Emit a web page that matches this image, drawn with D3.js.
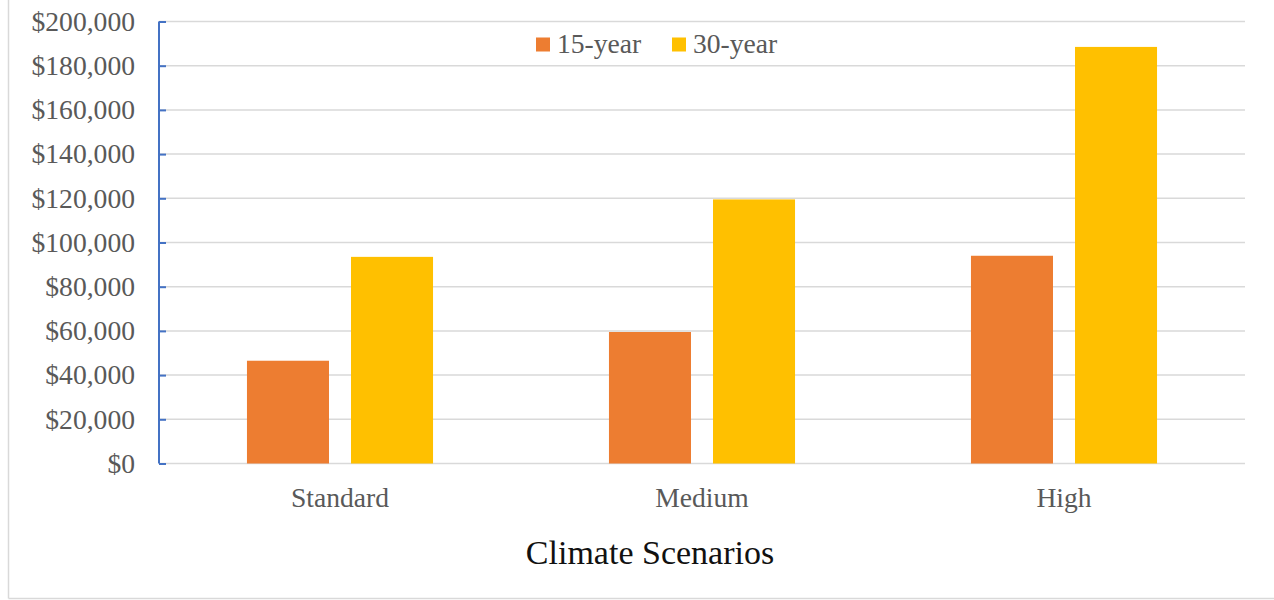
<!DOCTYPE html>
<html>
<head>
<meta charset="utf-8">
<script src="https://cdn.jsdelivr.net/npm/d3@7"></script>
<style>
  html, body { margin: 0; padding: 0; background: #fff; }
  svg { display: block; }
  text { font-family: "Liberation Serif", "Times New Roman", serif; }
</style>
</head>
<body>
<svg id="chart" width="1274" height="600"></svg>
<script>
// Cost estimates by climate scenario and planning horizon
const categories = ["Standard", "Medium", "High"];
const seriesNames = ["15-year", "30-year"];
const values15 = [46500, 59500, 94000];
const values30 = [93500, 119500, 188500];
const yTicks = [0, 20000, 40000, 60000, 80000, 100000, 120000, 140000, 160000, 180000, 200000];
const axisTitle = "Climate Scenarios";

const colors = { "15-year": "#ED7D31", "30-year": "#FFC000" };
const seriesValues = { "15-year": values15, "30-year": values30 };

const svg = d3.select("#chart");
const W = 1274, H = 600;
const plot = { left: 159, right: 1245, top: 21.5, bottom: 463.5 };
const labelSize = 27.6;

// Chart frame (left and bottom edges visible)
svg.append("line").attr("x1", 8.5).attr("x2", 8.5).attr("y1", 0).attr("y2", 598.5)
  .attr("stroke", "#d9d9d9").attr("stroke-width", 1.5);
svg.append("line").attr("x1", 8.5).attr("x2", W).attr("y1", 598.5).attr("y2", 598.5)
  .attr("stroke", "#d9d9d9").attr("stroke-width", 1.5);

const y = d3.scaleLinear().domain([0, 200000]).range([plot.bottom, plot.top]);
const x0 = d3.scaleBand().domain(categories).range([plot.left, plot.right])
  .paddingInner(0.486).paddingOuter(0.243);
const x1 = d3.scaleBand().domain(seriesNames).range([0, x0.bandwidth()])
  .paddingInner(0.2115).paddingOuter(0);

// Horizontal gridlines
svg.append("g").selectAll("line").data(yTicks).join("line")
  .attr("x1", plot.left).attr("x2", plot.right)
  .attr("y1", d => y(d)).attr("y2", d => y(d))
  .attr("stroke", "#d9d9d9").attr("stroke-width", 1.5);

// Bars
const groups = svg.append("g").selectAll("g").data(categories).join("g")
  .attr("transform", d => `translate(${x0(d)},0)`);
groups.selectAll("rect")
  .data((c, i) => seriesNames.map(s => ({ s, v: seriesValues[s][i] })))
  .join("rect")
  .attr("x", d => x1(d.s))
  .attr("width", x1.bandwidth())
  .attr("y", d => y(d.v))
  .attr("height", d => y(0) - y(d.v))
  .attr("fill", d => colors[d.s]);

// Y axis: blue line with inward ticks, gray labels
const yAxis = d3.axisRight(y).tickValues(yTicks).tickSize(7).tickFormat("");
const yg = svg.append("g").attr("transform", `translate(${plot.left},0)`).call(yAxis);
yg.select(".domain").attr("stroke", "#4472C4").attr("stroke-width", 2)
  .attr("d", `M0,${plot.top}V${plot.bottom}`);
yg.selectAll(".tick line").attr("stroke", "#4472C4").attr("stroke-width", 2);

const fmt = d => "$" + d3.format(",")(d);
svg.append("g").selectAll("text").data(yTicks).join("text")
  .attr("x", 135).attr("y", d => y(d)).attr("dy", "0.34em")
  .attr("text-anchor", "end").attr("font-size", labelSize).attr("fill", "#595959")
  .text(fmt);

// Category labels
const xAxis = d3.axisBottom(x0).tickSize(0).tickPadding(0);
const xg = svg.append("g").attr("transform", `translate(0,${plot.bottom})`).call(xAxis);
xg.select(".domain").remove();
xg.selectAll(".tick text")
  .attr("y", 43).attr("dy", 0)
  .attr("font-size", labelSize).attr("fill", "#595959")
  .attr("font-family", "Liberation Serif, Times New Roman, serif");

// Axis title
svg.append("text").attr("x", 650).attr("y", 564).attr("text-anchor", "middle")
  .attr("font-size", 34).attr("fill", "#111").text(axisTitle);

// Legend
const legendItems = [{ s: "15-year", x: 536 }, { s: "30-year", x: 672 }];
const lg = svg.append("g").selectAll("g").data(legendItems).join("g")
  .attr("transform", d => `translate(${d.x},0)`);
lg.append("rect").attr("x", 0).attr("y", 37.5).attr("width", 14).attr("height", 14)
  .attr("fill", d => colors[d.s]);
lg.append("text").attr("x", 21).attr("y", 53).attr("font-size", labelSize).attr("fill", "#595959")
  .text(d => d.s);
</script>
</body>
</html>
